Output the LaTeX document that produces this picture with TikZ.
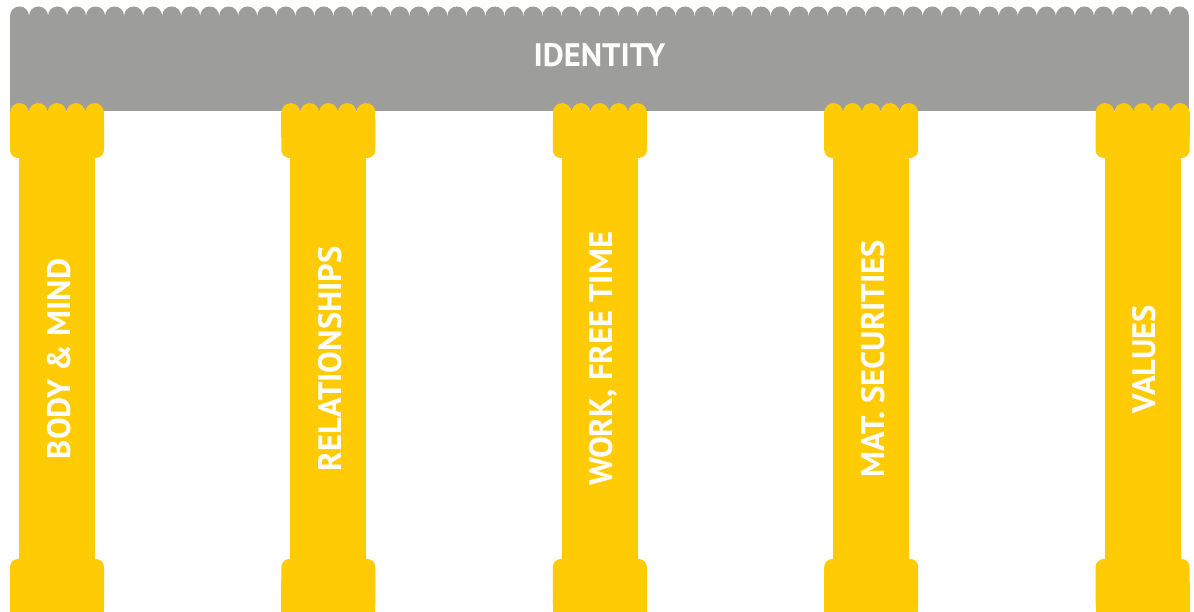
\documentclass[tikz,border=0pt]{standalone}
\usepackage{fontspec}
\setmainfont{PT Sans}
\usetikzlibrary{positioning}
\definecolor{roofgray}{RGB}{157,157,156}
\definecolor{pillaryellow}{RGB}{255,203,5}
\begin{document}
\begin{tikzpicture}[
		x=1pt,y=1pt,
		roof/.style={fill=roofgray},
		pillar/.style={fill=pillaryellow},
		label text/.style={text=white,inner sep=0pt,font=\fontsize{32.5}{33}\selectfont\bfseries}
	]
	\useasboundingbox (0,0) rectangle (1194,612);
	% roof with its scalloped top
	\fill[roof] (10,501) rectangle (1189,596);
	\foreach \i in {0,...,61}
		\fill[roof] (19.5+19.016*\i,596) circle (9.5);
	\node[label text,anchor=base] (identity) at (599.5,545) {IDENTITY};
	% the five pillars
	\foreach \i/\name/\txt in {0/body/{BODY \& MIND},1/rel/RELATIONSHIPS,2/work/{WORK, FREE TIME},3/mat/{MAT. SECURITIES},4/val/VALUES}{
		\pgfmathsetmacro{\cx}{57+271.4*\i}
		% capital
		\fill[pillar,rounded corners=8] (\cx-47,454) rectangle (\cx+47,500);
		\fill[pillar] (\cx-47,475) rectangle (\cx+47,500);
		\foreach \k in {0,...,4}
			\fill[pillar] (\cx-37.6+18.8*\k,499.5) circle (9.4);
		% shaft
		\fill[pillar] (\cx-38,52) rectangle (\cx+38,456);
		% base
		\fill[pillar,rounded corners=8] (\cx-47,0) rectangle (\cx+47,53);
		\fill[pillar] (\cx-47,0) rectangle (\cx+47,30);
		\node[label text,rotate=90,anchor=base] (\name) at (\cx+13,253) {\txt};
	}
\end{tikzpicture}
\end{document}
